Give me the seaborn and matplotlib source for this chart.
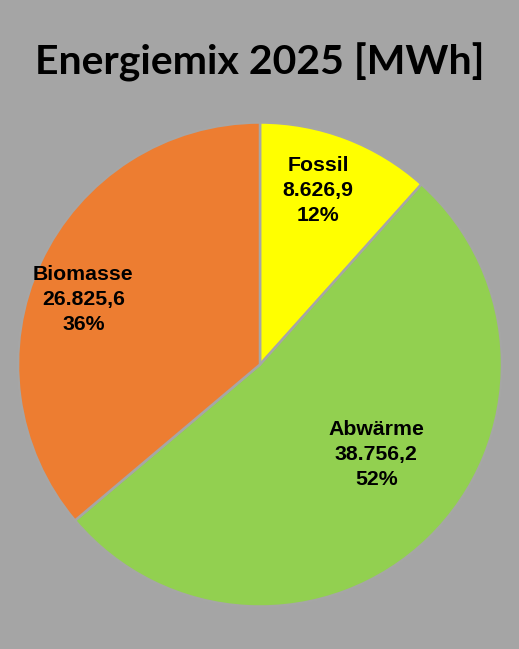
import matplotlib
matplotlib.use("Agg")
import matplotlib.pyplot as plt
import seaborn as sns

# data
categories = ["Fossil", "Abwärme", "Biomasse"]
values = [8626.9, 38756.2, 26825.6]
colors = ["#ffff00", "#92d050", "#ed7d31"]
# label anchor spots inside each wedge (axes data units, pie radius = 1)
label_pos = [(0.24, 0.72), (0.48, -0.37), (-0.73, 0.27)]

bg = "#a5a5a5"

sns.set_theme(style="white")
plt.rcParams["font.family"] = ["Liberation Sans", "DejaVu Sans"]


def de_num(v):
    s = f"{v:,.1f}"
    return s.replace(",", "X").replace(".", ",").replace("X", ".")


fig = plt.figure(figsize=(5.19, 6.49), dpi=100)
fig.patch.set_facecolor(bg)

W, H = 519, 649
cx, cy, r = 260, 364.5, 242
ax = fig.add_axes([(cx - r) / W, (H - cy - r) / H, 2 * r / W, 2 * r / H])
ax.set_facecolor(bg)

wedges, _ = ax.pie(values, colors=colors, startangle=90, counterclock=False,
                   radius=1.0,
                   wedgeprops=dict(edgecolor="#a6a6a6", linewidth=1.8))
ax.set_xlim(-1, 1)
ax.set_ylim(-1, 1)
ax.set_aspect("equal")
ax.axis("off")

total = sum(values)
for name, v, (x, y) in zip(categories, values, label_pos):
    txt = f"{name}\n{de_num(v)}\n{v / total * 100:.0f}%"
    ax.text(x, y, txt, ha="center", va="center", fontsize=15.3,
            fontweight="bold", color="black", linespacing=1.4)

fig.text(0.5, 1 - 62 / H, "Energiemix 2025 [MWh]", ha="center", va="center",
         fontsize=29.5, fontweight="bold", family=["Lato", "DejaVu Sans"],
         color="black")

fig.savefig("out.png", dpi=100, facecolor=bg)
